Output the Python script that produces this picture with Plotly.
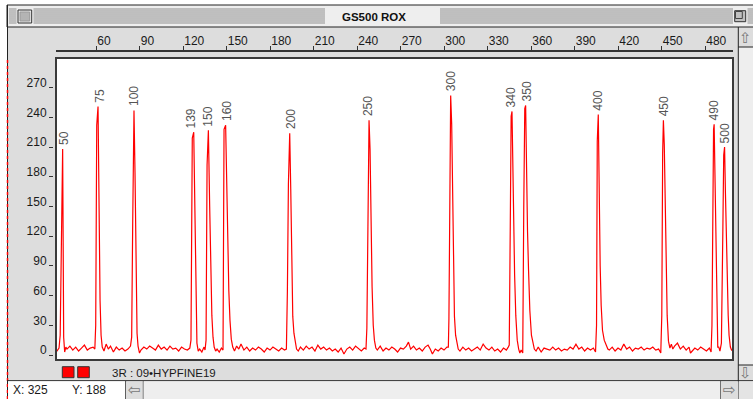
import plotly.graph_objects as go

# ---------------- data ----------------
# (scan, intensity) samples of the GS500 ROX trace
signal = [
    (32.5, 3), (33.5, 5), (34.5, 7),
    (35.3, 20), (36.2, 127), (37.0, 208), (37.7, 18), (38.4, 3), (39.2, 8),
    (40, 6), (42, 9), (44, 5), (46, 8), (48, 4), (50, 7), (52, 10), (54, 5), (56, 7), (58, 8),
    (59.2, 6), (59.8, 30), (60.5, 232), (61.4, 251), (62.1, 141), (62.8, 55), (63.5, 20), (64.3, 8),
    (65.5, 4), (67, 11), (68.5, 6), (70, 9), (72, 3), (74, 8), (76, 5), (78, 7), (80, 4), (82, 6), (83.8, 9),
    (84.6, 18), (85.3, 132), (86.2, 247), (86.9, 184), (87.6, 70), (88.3, 22), (89, 9), (90, 2),
    (91, 5), (93, 8), (95, 6), (97, 9), (99, 7), (101, 5), (103, 10), (105, 6), (107, 8), (109, 5),
    (111, 9), (113, 6), (115, 7), (117, 4), (119, 8), (121, 6), (123, 5), (124.7, 7),
    (125.5, 15), (126.4, 219), (127.4, 225), (128.2, 142), (128.9, 45), (129.6, 12), (130.5, 4),
    (131.5, 6), (133, 3), (134.5, 8), (135.2, 5),
    (135.9, 15), (136.6, 192), (137.5, 227), (138.4, 150), (139.1, 83), (139.9, 40), (140.7, 18), (141.5, 8), (142.5, 4),
    (143.5, 6), (145, 3), (146.5, 7), (147.6, 5),
    (148.3, 228), (149.4, 232), (150.3, 159), (151.0, 110), (151.6, 65), (152.4, 35), (153.3, 16), (154.3, 8),
    (155.5, 4), (157, 9), (158.5, 6), (160, 11), (162, 5), (164, 8), (166, 4), (168, 7), (170, 5), (172, 8),
    (174, 6), (176, 3), (178, 7), (180, 5), (182, 8), (184, 6), (186, 4), (188, 7), (190, 5), (191.3, 6),
    (192.0, 65), (192.7, 173), (193.6, 224), (194.3, 168), (195.0, 79), (195.7, 39), (196.5, 22), (197.3, 14), (198.3, 6),
    (199.5, 4), (201, 8), (203, 5), (205, 9), (207, 6), (209, 8), (211, 4), (213, 10), (215, 6), (217, 8),
    (219, 5), (221, 7), (223, 4), (225, 6), (227, 3), (229, 7), (231, 1), (233, 6), (235, 8), (237, 5),
    (239, 9), (241, 6), (243, 4), (245, 7),
    (246.2, 6), (246.8, 27), (247.4, 142), (248.3, 237), (249.0, 208), (249.7, 126), (250.4, 69), (251.2, 30), (252, 15), (253, 7),
    (254, 5), (256, 9), (258, 4), (260, 7), (262, 5), (264, 8), (266, 6), (268, 3), (270, 7), (272, 6),
    (274, 9), (275.5, 13), (277, 6), (279, 9), (281, 5), (283, 7), (285, 4), (287, 8), (289, 10), (290.5, 6),
    (292, 1), (294, 6), (296, 4), (298, 7), (300, 5), (302, 8),
    (303.0, 8), (303.4, 37), (303.8, 164), (304.6, 262), (305.3, 233), (306.0, 145), (306.6, 60), (307.2, 39), (308.0, 20), (308.8, 12), (309.8, 6),
    (311, 4), (313, 8), (315, 5), (317, 7), (319, 4), (321, 6), (323, 8), (325, 5), (327, 11), (329, 7),
    (331, 5), (333, 8), (335, 4), (337, 6), (339, 3), (341, 7), (343, 5), (344.3, 8),
    (345.0, 10), (345.7, 130), (346.3, 241), (346.9, 246), (347.5, 181), (348.1, 130), (348.7, 81), (349.5, 40), (350.5, 15), (351.5, 6), (352.3, 2),
    (353.2, 5), (354.3, 2),
    (355.0, 147), (355.7, 249), (356.3, 252), (356.9, 182), (357.6, 125), (358.3, 86), (359.2, 45), (360.3, 20), (361.3, 12), (362.3, 6),
    (363.5, 4), (365, 8), (367, 3), (369, 7), (371, 6), (373, 5), (375, 8), (377, 5), (379, 7), (381, 4),
    (383, 6), (385, 5), (387, 8), (389, 6), (391, 11), (393, 6), (395, 8), (397, 4), (399, 7), (401, 5), (403, 7), (404.5, 3),
    (405.2, 30), (405.7, 216), (406.4, 243), (407.0, 132), (407.7, 90), (408.4, 50), (409.3, 25), (410.5, 15), (411.8, 10), (413, 6),
    (414, 5), (416, 8), (418, 4), (420, 7), (422, 5), (424, 11), (426, 6), (428, 8), (430, 4), (432, 7),
    (434, 6), (436, 8), (438, 5), (440, 7), (442, 6), (444, 8), (446, 5), (448, 6), (449.5, 2),
    (450.2, 40), (450.8, 204), (451.3, 237), (451.9, 213), (452.6, 135), (453.2, 81), (453.9, 40), (454.8, 14), (455.8, 7), (456.8, 11), (457.8, 6),
    (459, 9), (461, 12), (463, 6), (465, 9), (467, 5), (469, 8), (470, 2), (471, 4), (473, 7), (475, 5),
    (477, 8), (479, 6), (481, 4), (483, 7), (484.2, 3),
    (484.8, 30), (485.3, 145), (485.9, 228), (486.3, 233), (486.9, 178), (487.5, 90), (488.1, 35), (488.8, 8),
    (489.5, 8), (490.3, 4), (491.3, 12),
    (491.8, 55), (492.3, 125), (492.9, 202), (493.5, 210), (494.1, 163), (494.8, 110), (495.4, 76), (496.0, 40), (496.6, 20), (497.5, 8), (498.3, 5), (499.2, 6),
]

peak_sizes = [50, 75, 100, 139, 150, 160, 200, 250, 300, 340, 350, 400, 450, 490, 500]
peak_scan = [37.9, 62.2, 86.6, 125.7, 137.5, 150.8, 194.3, 248.1, 304.5, 346.2, 357.2, 406.4, 451.7, 486.3, 494.0]

x_ticks = [60, 90, 120, 150, 180, 210, 240, 270, 300, 330, 360, 390, 420, 450, 480]
y_ticks = [0, 30, 60, 90, 120, 150, 180, 210, 240, 270]

window_title = "GS500 ROX"
status_text = "3R : 09\u2022HYPFINE19"
cursor_x_text = "X: 325"
cursor_y_text = "Y: 188"

# ---------------- layout helpers (pixel geometry) ----------------
W, H = 753, 399
L, R, T, B = 53, 733, 51, 360
PW, PH = R - L, B - T
FONT = "Liberation Sans, Arial, Helvetica, sans-serif"


def fx(px):
    return (px - L) / PW


def fy(py):
    return (B - py) / PH


def rect(x0, y0, x1, y1, fill=None, line=None, lw=1):
    return dict(type="rect", xref="paper", yref="paper",
                x0=fx(x0), x1=fx(x1), y0=fy(y1), y1=fy(y0),
                fillcolor=fill if fill else "rgba(0,0,0,0)",
                line=dict(color=line if line else "rgba(0,0,0,0)", width=lw if line else 0),
                layer="above")


def hline(y, x0, x1, color="#222", w=1, dash="solid"):
    return dict(type="line", xref="paper", yref="paper", x0=fx(x0), x1=fx(x1),
                y0=fy(y), y1=fy(y), line=dict(color=color, width=w, dash=dash), layer="above")


def vline(x, y0, y1, color="#222", w=1, dash="solid"):
    return dict(type="line", xref="paper", yref="paper", x0=fx(x), x1=fx(x),
                y0=fy(y0), y1=fy(y1), line=dict(color=color, width=w, dash=dash), layer="above")


scan = [p[0] for p in signal]
intensity = [p[1] for p in signal]

fig = go.Figure()
fig.add_trace(go.Scatter(x=scan, y=intensity, mode="lines",
                         line=dict(color="#ff0000", width=1.2), hoverinfo="skip"))

shapes = []
# outside-window white strips
shapes.append(rect(0, 0, W, 5, fill="white"))
shapes.append(rect(0, 0, 7, H, fill="white"))
# title bar
shapes.append(rect(7, 5, W + 2, 27, fill="#eeeeee", line="#222", lw=1))
for yy in [9, 11, 13, 15, 17, 19, 21, 23]:
    for (a, b) in [(9, 16.5), (33.5, 325), (440, 733), (747.5, W)]:
        shapes.append(hline(yy, a, b, color="#8f8f8f", w=1))
# close box
shapes.append(rect(18, 10, 31.7, 23, fill="#e8e8e8", line="#333"))
shapes.append(rect(20, 12, 29.7, 21, fill="#b4b4b4", line="#9a9a9a"))
# zoom box
shapes.append(rect(734.7, 10.7, 745.7, 21.7, fill="#c0c0c0", line="#333"))
shapes.append(rect(735.5, 11.5, 742.3, 18.5, line="#444"))
# window left edge with red dashes
shapes.append(vline(7.5, 5, H, color="#222", w=1))
shapes.append(vline(7.5, 60, H, color="#ff0000", w=1.5, dash="dot"))
# right scroll bar
shapes.append(rect(738.3, 47, W + 2, 365, fill="#eeeeee"))
shapes.append(vline(738.3, 27, H, color="#222"))
shapes.append(hline(47, 738.3, W, color="#222"))
shapes.append(hline(365, 738.3, W, color="#222"))
# bottom bar
shapes.append(hline(380.7, 7, W, color="#222"))
shapes.append(rect(8, 381.3, 125.5, H + 2, fill="white"))
shapes.append(vline(125.8, 381, H, color="#222"))
shapes.append(rect(126, 381.3, 143.3, H + 2, fill="#dddddd"))
shapes.append(vline(143.3, 381, H, color="#555"))
shapes.append(rect(143.6, 381.3, 720.7, H + 2, fill="#eeeeee"))
shapes.append(vline(720.7, 381, H, color="#555"))
shapes.append(rect(721, 381.3, 738, H + 2, fill="#dddddd"))
shapes.append(rect(738.6, 381.3, W + 2, H + 2, fill="#e4e4e4"))
# status squares
shapes.append(rect(62.3, 366.7, 74, 377.7, fill="#ff0000", line="#333"))
shapes.append(rect(77.7, 366.7, 89.3, 377.7, fill="#ff0000", line="#333"))
# plot box border
shapes.append(dict(type="rect", xref="x domain", yref="y domain", x0=0, x1=1, y0=0, y1=1,
                   line=dict(color="#3a3a3a", width=2), fillcolor="rgba(0,0,0,0)", layer="above"))

annotations = []
for size, sx in zip(peak_sizes, peak_scan):
    top = max(v for (s, v) in signal if abs(s - sx) <= 2)
    annotations.append(dict(x=sx, y=top, xref="x", yref="y", text=str(size), textangle=-90,
                            showarrow=False, xanchor="center", yanchor="bottom", yshift=2,
                            font=dict(family=FONT, size=12, color="#555555")))


def label(px, py, text, size=12, anchor="left", color="#1a1a1a", family=FONT):
    return dict(x=fx(px), y=fy(py), xref="paper", yref="paper", text=text, showarrow=False,
                xanchor=anchor, yanchor="middle", font=dict(family=family, size=size, color=color))


annotations.append(label(373.5, 17.5, "<b>" + window_title + "</b>", size=11.5, anchor="center", color="#111"))
annotations.append(label(110, 372.5, status_text, size=11.5))
annotations.append(label(11, 390.5, cursor_x_text, size=12))
annotations.append(label(70, 390.5, cursor_y_text, size=12))
ARROW_FONT = "DejaVu Sans"
annotations.append(label(745.8, 37.5, "\u21e7", size=15, anchor="center", color="#777", family=ARROW_FONT))
annotations.append(label(745.8, 372.8, "\u21e9", size=15, anchor="center", color="#777", family=ARROW_FONT))
annotations.append(label(134.7, 390.2, "\u21e6", size=15, anchor="center", color="#777", family=ARROW_FONT))
annotations.append(label(729.5, 390.2, "\u21e8", size=15, anchor="center", color="#777", family=ARROW_FONT))

x0_val = 60 + (56 - 96) / 1.45
x1_val = 60 + (733 - 96) / 1.45

fig.update_layout(
    width=W, height=H,
    margin=dict(l=L, r=W - R, t=T, b=H - B, pad=0),
    paper_bgcolor="#dddddd",
    plot_bgcolor="white",
    showlegend=False,
    shapes=shapes,
    annotations=annotations,
    xaxis=dict(domain=[fx(56), 1], range=[x0_val, x1_val], side="top", anchor="free", position=1,
               tickmode="array", tickvals=x_ticks, ticktext=[str(v) for v in x_ticks],
               ticks="outside", ticklen=4, tickwidth=1, tickcolor="#333",
               showline=True, linecolor="#333", linewidth=1.5,
               showgrid=False, zeroline=False, ticklabelposition="outside right",
               tickfont=dict(family=FONT, size=12, color="#1a1a1a")),
    yaxis=dict(domain=[0, fy(58)], range=[-5.05, 300], anchor="free", position=0,
               tickmode="array", tickvals=y_ticks, ticktext=[str(v) for v in y_ticks],
               ticks="outside", ticklen=4, tickwidth=1, tickcolor="#333",
               showline=False, showgrid=False, zeroline=False, ticklabelshift=-5,
               tickfont=dict(family=FONT, size=12, color="#1a1a1a")),
)

fig.write_html("out.html", config={"displayModeBar": False},
               post_script="document.body.style.margin='0';document.body.style.overflow='hidden';")
